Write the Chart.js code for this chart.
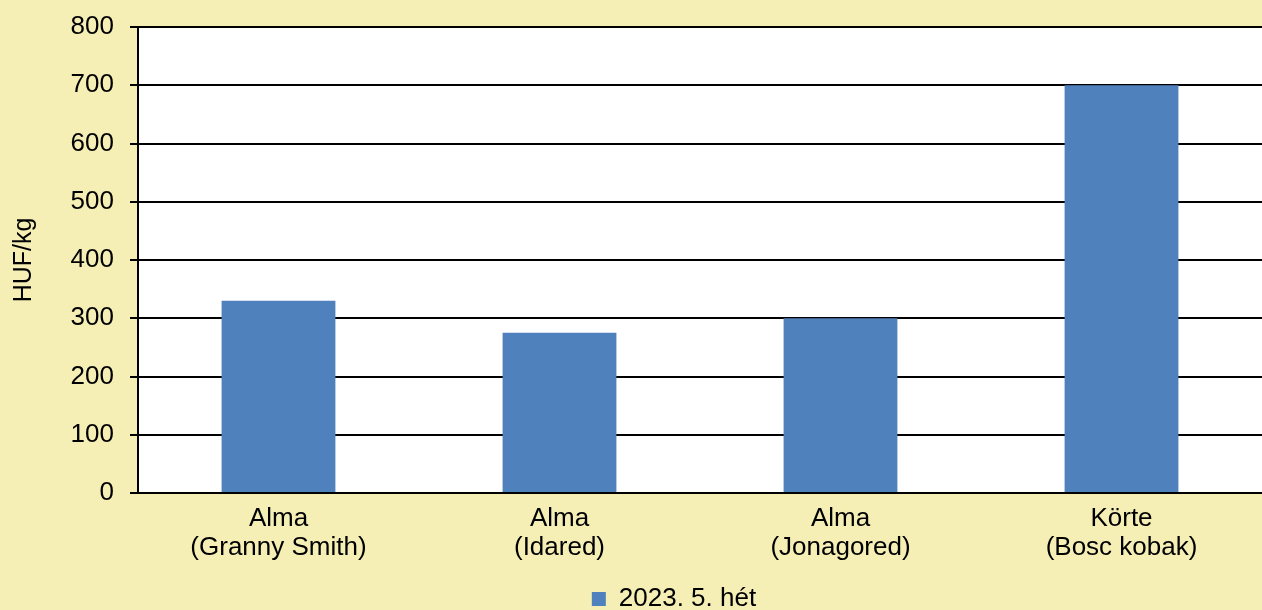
<!DOCTYPE html>
<html>
<head>
<meta charset="utf-8">
<script src="https://cdn.jsdelivr.net/npm/chart.js@4"></script>
<style>
html,body{margin:0;padding:0;background:#F5EFB5;}
#wrap{width:1262px;height:610px;position:relative;}
</style>
</head>
<body>
<div id="wrap"><canvas id="c"></canvas></div>
<script>
const categories = [["Alma","(Granny Smith)"],["Alma","(Idared)"],["Alma","(Jonagored)"],["Körte","(Bosc kobak)"]];
const seriesName = "2023. 5. hét";
const values = [330, 275, 300, 700];
const yTicks = [0,100,200,300,400,500,600,700,800];
const yTitle = "HUF/kg";

const FONT = "'Liberation Sans', Arial, sans-serif";

const plotBg = {
  id:'plotBg',
  afterLayout(chart){
    const lg = chart.legend;
    if (lg) { lg.left += 86; }
  },
  beforeDraw(chart){
    const {ctx, chartArea:a} = chart;
    ctx.save();
    ctx.fillStyle = '#F5EFB5';
    ctx.fillRect(0,0,chart.width,chart.height);
    ctx.fillStyle = '#FFFFFF';
    ctx.fillRect(a.left, a.top, a.right-a.left, a.bottom-a.top);
    ctx.restore();
  }
};

new Chart(document.getElementById('c'), {
  type:'bar',
  data:{
    labels: categories,
    datasets:[{
      label: seriesName,
      data: values,
      backgroundColor:'#4F81BD',
      borderWidth:0,
      categoryPercentage:0.81,
      barPercentage:0.5
    }]
  },
  options:{
    responsive:true,
    maintainAspectRatio:false,
    animation:false,
    layout:{padding:{top:27,right:0,left:0,bottom:-12}},
    plugins:{
      legend:{
        position:'bottom',
        labels:{
          font:{family:FONT,size:26},
          color:'#000',
          boxWidth:14,
          boxHeight:14,
          padding:0
        }
      },
      tooltip:{enabled:false}
    },
    scales:{
      x:{
        grid:{display:false},
        border:{display:true,color:'#000',width:2},
        ticks:{
          font:{family:FONT,size:26,lineHeight:1.12},
          color:'#000',
          padding:3,
          maxRotation:0
        },
        afterFit(s){ s.height = 93; }
      },
      y:{
        min:0,max:800,
        afterBuildTicks(s){ s.ticks = yTicks.map(v=>({value:v})); },
        grid:{color:'#000',lineWidth:2,tickLength:8,drawTicks:true},
        border:{display:true,color:'#000',width:2},
        ticks:{
          font:{family:FONT,size:26},
          color:'#000',
          padding:16
        },
        title:{
          display:true,
          text:yTitle,
          font:{family:FONT,size:25},
          color:'#000',
          padding:{top:9,bottom:0}
        },
        afterFit(s){ s.width = 138; s.paddingTop = 0; s.paddingBottom = 0; }
      }
    }
  },
  plugins:[plotBg]
});
</script>
</body>
</html>
